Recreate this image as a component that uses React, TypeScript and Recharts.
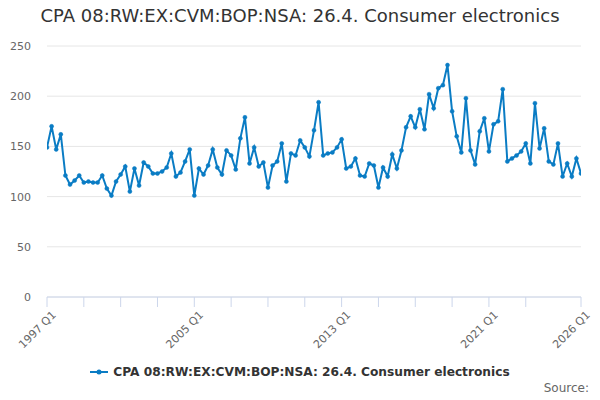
import React from "react";
import { LineChart, Line, XAxis, YAxis, CartesianGrid } from "recharts";

const seriesName = "CPA 08:RW:EX:CVM:BOP:NSA: 26.4. Consumer electronics";
const startYear = 1997;
const values = [
  149, 170, 147, 162, 121, 112, 116, 121, 114, 115, 114, 114, 121, 108, 101, 115,
  122, 130, 105, 128, 111, 134, 130, 123, 123, 125, 129, 143, 120, 124, 135, 147,
  101, 128, 122, 131, 147, 129, 122, 146, 141, 127, 158, 179, 133, 149, 130, 134,
  109, 131, 135, 153, 115, 143, 141, 156, 149, 140, 166, 194, 141, 143, 144, 149,
  157, 128, 130, 138, 121, 120, 133, 131, 109, 129, 120, 142, 128, 146, 169, 180,
  169, 187, 167, 202, 188, 208, 211, 231, 185, 160, 144, 198, 146, 132, 165, 178,
  145, 172, 175, 207, 135, 138, 141, 145, 153, 133, 193, 148, 168, 135, 132, 153,
  120, 133, 120, 138, 123,
];
const categories = values.map(
  (_, i) => `${startYear + Math.floor(i / 4)} Q${(i % 4) + 1}`
);
const xTickIdx = [0, 8, 16, 24, 32, 40, 48, 56, 64, 72, 80, 88, 96, 104, 116];
const xLabelIdx = [0, 32, 64, 96, 116];
const yTicks = [0, 50, 100, 150, 200, 250];

const data = values.map((v, i) => ({ idx: i, label: categories[i], value: v }));

const FONT = "'DejaVu Sans', sans-serif";
const COLOR = "#0a7cc4";

const XTick = (props: any) => {
  const { x, y, payload } = props;
  const i = payload.value;
  if (!xLabelIdx.includes(i)) return null;
  return (
    <g transform={`translate(${x + 4},${y + 1})`}>
      <text
        x={0}
        y={0}
        dy={8}
        textAnchor="end"
        transform="rotate(-45)"
        fill="#666666"
        fontSize={11}
        fontFamily={FONT}
      >
        {categories[i]}
      </text>
    </g>
  );
};

const YTick = (props: any) => {
  const { y, payload } = props;
  return (
    <text
      x={31}
      y={y}
      dy={4}
      textAnchor="end"
      fill="#666666"
      fontSize={11}
      fontFamily={FONT}
    >
      {payload.value}
    </text>
  );
};

export default function App() {
  return (
    <div
      style={{
        position: "absolute",
        left: 0,
        top: 0,
        width: 600,
        height: 400,
        background: "#ffffff",
        fontFamily: FONT,
      }}
    >
      <div
        style={{
          position: "absolute",
          left: 0,
          top: 5,
          width: 600,
          textAlign: "center",
          fontSize: 18,
          color: "#333333",
          fontFamily: FONT,
        }}
      >
        {seriesName}
      </div>
      <LineChart
        width={600}
        height={400}
        data={data}
        margin={{ top: 46, right: 19, bottom: 0, left: 0 }}
      >
        <CartesianGrid vertical={false} stroke="#e6e6e6" strokeWidth={1} />
        <XAxis
          dataKey="idx"
          type="number"
          domain={[0, 116]}
          ticks={xTickIdx}
          interval={0}
          tick={<XTick />}
          tickSize={10}
          axisLine={{ stroke: "#ccd6eb" }}
          tickLine={{ stroke: "#ccd6eb" }}
          height={103}
          allowDataOverflow
        />
        <YAxis
          type="number"
          domain={[0, 250]}
          ticks={yTicks}
          interval={0}
          width={47}
          axisLine={false}
          tickLine={false}
          tick={<YTick />}
        />
        <Line
          type="linear"
          dataKey="value"
          name={seriesName}
          stroke={COLOR}
          strokeWidth={2}
          dot={{ r: 2, fill: COLOR, stroke: COLOR, strokeWidth: 0.5 }}
          isAnimationActive={false}
        />
      </LineChart>
      <div
        style={{
          position: "absolute",
          left: 0,
          top: 365,
          width: 600,
          display: "flex",
          alignItems: "center",
          justifyContent: "center",
          fontFamily: FONT,
          fontSize: 12.2,
          fontWeight: "bold",
          color: "#333333",
        }}
      >
        <svg width={18} height={10} style={{ marginRight: 5 }}>
          <line x1={0} y1={5} x2={18} y2={5} stroke={COLOR} strokeWidth={2} />
          <circle cx={9} cy={5} r={2.5} fill={COLOR} />
        </svg>
        <span>{seriesName}</span>
      </div>
      <div
        style={{
          position: "absolute",
          right: 11,
          top: 381,
          fontSize: 12,
          color: "#666666",
          fontFamily: FONT,
        }}
      >
        Source:
      </div>
    </div>
  );
}
